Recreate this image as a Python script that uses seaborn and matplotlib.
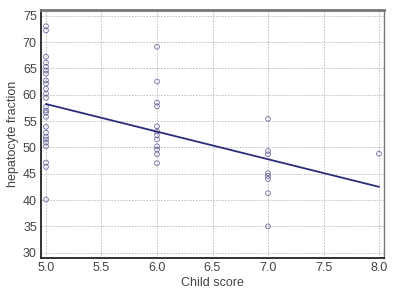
import seaborn as sns
import numpy as np
import pandas as pd
import matplotlib.pyplot as plt

# values, grouped by Child score
score_5 = [73.0, 72.2, 67.2, 66.1, 65.3, 64.6, 64.0, 62.7, 62.1, 61.1, 60.2, 59.4,
           57.7, 57.0, 56.6, 55.8, 53.9, 52.8, 52.0, 51.5, 50.9, 50.2, 47.1, 46.3, 40.1]
score_6 = [69.1, 62.5, 58.5, 57.8, 54.0, 53.0, 52.3, 51.5, 50.2, 49.6, 48.7, 47.0]
score_7 = [55.4, 49.3, 48.7, 45.1, 44.6, 44.0, 41.3, 35.0]
score_8 = [48.8]

df = pd.DataFrame({
    "child": [5.0] * len(score_5) + [6.0] * len(score_6) + [7.0] * len(score_7) + [8.0] * len(score_8),
    "hep": score_5 + score_6 + score_7 + score_8,
})

navy = "#2c2c78"
sns.set_style("white")
plt.rcParams["font.family"] = ["Liberation Sans", "DejaVu Sans"]

fig = plt.figure(figsize=(4, 3), dpi=100)
ax = fig.add_axes([0.1025, 0.14, 0.8575, 0.827])

sns.regplot(data=df, x="child", y="hep", ax=ax, ci=None, truncate=True,
            scatter_kws=dict(s=12, facecolors="none", edgecolors="#4a4a8a", linewidths=0.6),
            line_kws=dict(color=navy, lw=1.3))

ax.set_xlim(4.955, 8.045)
ax.set_ylim(29.0, 76.1)
ax.set_xticks([5.0, 5.5, 6.0, 6.5, 7.0, 7.5, 8.0])
ax.set_xticklabels(["5.0", "5.5", "6.0", "6.5", "7.0", "7.5", "8.0"])
ax.set_yticks(range(30, 80, 5))
ax.grid(True, color="#bdbdbd", linestyle=(0, (1.5, 1.5)), linewidth=0.7)
ax.set_axisbelow(True)

ax.tick_params(direction="in", length=4, width=1.2, color="#222222",
               labelsize=9, labelcolor="#444444", pad=3)
ax.set_xlabel("Child score", fontsize=9, color="#444444", labelpad=2)
ax.set_ylabel("hepatocyte fraction", fontsize=9, color="#444444", labelpad=3)

ax.spines["left"].set_color("#222222")
ax.spines["bottom"].set_color("#222222")
ax.spines["left"].set_linewidth(1.3)
ax.spines["bottom"].set_linewidth(1.3)
ax.spines["top"].set_color("#777777")
ax.spines["top"].set_linewidth(2.0)
ax.spines["right"].set_color("#777777")
ax.spines["right"].set_linewidth(1.0)

plt.savefig("out.png", dpi=100)
